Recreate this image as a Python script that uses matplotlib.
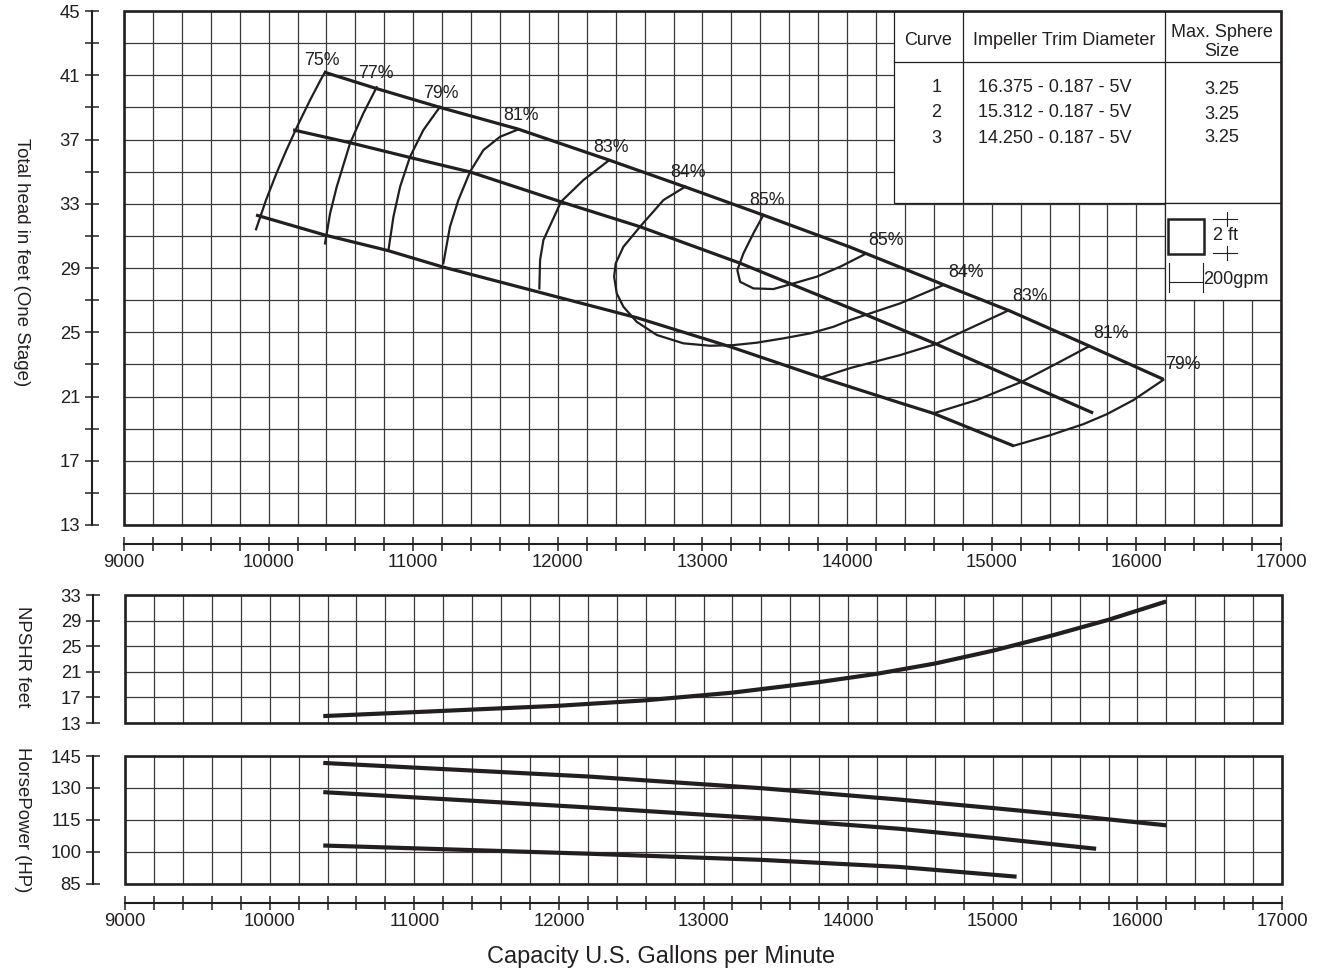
import matplotlib
matplotlib.use("Agg")
import matplotlib.pyplot as plt
from matplotlib.patches import Rectangle
from matplotlib.ticker import MultipleLocator
import numpy as np

plt.rcParams['font.family'] = ['Liberation Sans', 'DejaVu Sans']
INK = '#231f20'
GRID = '#3a3a3a'

# Head curves for the three impeller trims (gpm, ft)
q_trim1 = [10383, 10736, 11185, 11725, 12354, 12880, 13419, 14021, 14678, 15127, 15680, 16187]
h_trim1 = [41.2, 40.2, 39.0, 37.65, 35.72, 34.05, 32.3, 30.3, 27.92, 26.32, 24.12, 22.07]
q_trim2 = [10169, 10563, 10978, 11393, 12022, 12568, 13260, 14021, 14615, 15208, 15701]
h_trim2 = [37.6, 36.8, 35.88, 34.98, 33.12, 31.57, 29.3, 26.5, 24.27, 21.92, 19.97]
q_trim3 = [9913, 10390, 10819, 11206, 11995, 12548, 13191, 13813, 14367, 14597, 15150]
h_trim3 = [32.3, 31.05, 30.1, 29.06, 27.2, 25.9, 24.1, 22.2, 20.6, 19.95, 17.93]

# Iso-efficiency lines
q_e75 = [9913, 9982, 10054, 10123, 10208, 10287, 10359, 10391]
h_e75 = [31.41, 33.23, 34.89, 36.34, 38.01, 39.46, 40.70, 41.22]
q_e77 = [10390, 10425, 10471, 10563, 10655, 10747]
h_e77 = [30.53, 32.4, 34.06, 36.76, 38.63, 40.25]
q_e79 = [10828, 10863, 10909, 10978, 11070, 11185]
h_e79 = [30.07, 32.19, 34.06, 35.93, 37.59, 39.04]
q_e81 = [11208, 11254, 11312, 11393, 11485, 11600, 11727]
h_e81 = [29.29, 31.57, 33.23, 35.0, 36.34, 37.17, 37.63]
q_e83 = [11872, 11877, 11900, 12022, 12177, 12356]
h_e83 = [27.73, 29.5, 30.74, 33.13, 34.48, 35.72]
q_e84 = [12880, 12730, 12568, 12453, 12400, 12389, 12407, 12453, 12545, 12684, 12868,
         13053, 13214, 13375, 13559, 13744, 13905, 14021, 14367, 14666]
h_e84 = [34.06, 33.23, 31.57, 30.32, 29.29, 28.46, 27.42, 26.59, 25.65, 24.83, 24.31,
         24.16, 24.2, 24.35, 24.62, 24.93, 25.34, 25.76, 26.8, 27.94]
q_e85 = [13421, 13352, 13283, 13241, 13260, 13352, 13490, 13629, 13790, 13952, 14125]
h_e85 = [32.3, 31.16, 29.91, 28.87, 28.14, 27.73, 27.69, 28.04, 28.46, 29.08, 29.87]
q_e83b = [13836, 14021, 14367, 14615, 15106]
h_e83b = [22.23, 22.77, 23.58, 24.27, 26.32]
q_e81b = [14597, 14897, 15208, 15450, 15676]
h_e81b = [19.95, 20.78, 21.92, 23.06, 24.14]
q_e79b = [15150, 15404, 15634, 15796, 15980, 16187]
h_e79b = [17.93, 18.59, 19.28, 19.9, 20.78, 22.04]

eff_lines = [(q_e75, h_e75), (q_e77, h_e77), (q_e79, h_e79), (q_e81, h_e81),
             (q_e83, h_e83), (q_e84, h_e84), (q_e85, h_e85), (q_e83b, h_e83b),
             (q_e81b, h_e81b), (q_e79b, h_e79b)]

eff_text = ['75%', '77%', '79%', '81%', '83%', '84%', '85%', '85%', '84%', '83%', '81%', '79%']
eff_text_q = [10245, 10618, 11068, 11621, 12243, 12776, 13322, 14145, 14698, 15141, 15701, 16199]
eff_text_h = [41.89, 41.14, 39.89, 38.52, 36.53, 34.97, 33.23, 30.74, 28.74, 27.25, 24.95, 23.02]

# NPSHR
q_npsh = [10385, 11000, 11600, 12000, 12600, 13200, 13800, 14200, 14600, 15000, 15400, 15800, 16185]
npsh = [14.1, 14.7, 15.3, 15.7, 16.55, 17.75, 19.4, 20.7, 22.3, 24.3, 26.62, 29.14, 31.9]

# Horsepower per trim
q_hp1 = [10385, 12200, 13400, 14350, 15000, 15600, 16185]
hp1 = [141.7, 135.4, 129.9, 124.6, 120.6, 116.7, 112.6]
q_hp2 = [10385, 12200, 13400, 14350, 15000, 15700]
hp2 = [128.0, 120.9, 115.8, 110.9, 106.6, 101.6]
q_hp3 = [10385, 12200, 13400, 14350, 15150]
hp3 = [103.0, 99.2, 96.3, 93.0, 88.5]

# Trim table
curve_ids = ['1', '2', '3']
trim_sizes = ['16.375 - 0.187 - 5V', '15.312 - 0.187 - 5V', '14.250 - 0.187 - 5V']
sphere_sizes = ['3.25', '3.25', '3.25']

fig = plt.figure(figsize=(13.19, 9.76), dpi=100)
ax = fig.add_axes([0.0940, 0.4621, 0.8772, 0.5266])
ax_npsh = fig.add_axes([0.0948, 0.2592, 0.8772, 0.1311])
ax_hp = fig.add_axes([0.0948, 0.0943, 0.8772, 0.1311])

TICK_FS = 13.3


def style_panel(a, ylim, yticks, yminor=None, xlabels=True):
    a.set_xlim(9000, 17000)
    a.set_ylim(*ylim)
    a.xaxis.set_major_locator(MultipleLocator(1000))
    a.xaxis.set_minor_locator(MultipleLocator(200))
    a.set_yticks(yticks)
    if yminor is not None:
        a.set_yticks(yminor, minor=True)
    a.spines['top'].set_visible(False)
    a.spines['right'].set_visible(False)
    a.spines['left'].set_position(('outward', 23))
    a.spines['left'].set_linewidth(1.5)
    a.spines['left'].set_color(INK)
    if xlabels:
        a.spines['bottom'].set_position(('outward', 13.7))
        a.spines['bottom'].set_linewidth(1.5)
        a.spines['bottom'].set_color(INK)
        a.tick_params(axis='x', which='both', direction='inout', length=9.5,
                      width=1.1, colors=INK, labelsize=TICK_FS, pad=2.5)
    else:
        a.spines['bottom'].set_visible(False)
        a.tick_params(axis='x', which='both', bottom=False, labelbottom=False)
    a.tick_params(axis='y', which='both', direction='inout', length=10,
                  width=1.1, colors=INK, labelsize=TICK_FS, pad=3.5)
    a.grid(which='both', color=GRID, lw=0.9)
    a.set_axisbelow(True)
    a.add_patch(Rectangle((0, 0), 1, 1, transform=a.transAxes, fill=False,
                          lw=1.9, ec=INK, zorder=6, clip_on=False))


style_panel(ax, (13, 45), np.arange(13, 46, 4), np.arange(15, 45, 4))
style_panel(ax_npsh, (13, 33), np.arange(13, 34, 4), xlabels=False)
style_panel(ax_hp, (85, 145), np.arange(85, 146, 15))

# head-capacity curves and efficiency lines
for q, h in [(q_trim1, h_trim1), (q_trim2, h_trim2), (q_trim3, h_trim3)]:
    ax.plot(q, h, color=INK, lw=2.3, solid_capstyle='butt', solid_joinstyle='round', zorder=4)
for q, h in eff_lines:
    ax.plot(q, h, color=INK, lw=1.6, solid_joinstyle='round', zorder=3)
for t, q, h in zip(eff_text, eff_text_q, eff_text_h):
    ax.text(q, h, t, fontsize=12.8, color=INK, ha='left', va='center', zorder=5)

# trim table in the upper right corner
tr = ax.transAxes
ax.add_patch(Rectangle((0.6655, 0.6265), 0.3345, 0.3735, transform=tr,
                       fc='white', ec=INK, lw=0.9, zorder=5))
ax.add_patch(Rectangle((0.8995, 0.4377), 0.1005, 0.1888, transform=tr,
                       fc='white', ec=INK, lw=0.9, zorder=5))
ax.plot([0.7251, 0.7251], [0.6265, 1.0], transform=tr, color=INK, lw=0.9, zorder=6)
ax.plot([0.8995, 0.8995], [0.6265, 1.0], transform=tr, color=INK, lw=0.9, zorder=6)
ax.plot([0.6655, 1.0], [0.9008, 0.9008], transform=tr, color=INK, lw=0.9, zorder=6)

hdr = dict(transform=tr, fontsize=13, color=INK, va='center', zorder=7)
ax.text(0.695, 0.9436, 'Curve', ha='center', **hdr)
ax.text(0.8124, 0.9436, 'Impeller Trim Diameter', ha='center', **hdr)
ax.text(0.949, 0.9580, 'Max. Sphere', ha='center', **hdr)
ax.text(0.949, 0.9215, 'Size', ha='center', **hdr)
for cid, trim, sph, y_row, y_sph in zip(curve_ids, trim_sizes, sphere_sizes,
                                         [0.8521, 0.8035, 0.7529],
                                         [0.8482, 0.7996, 0.7549]):
    ax.text(0.702, y_row, cid, ha='center', **hdr)
    ax.text(0.7381, y_row, trim, ha='left', **hdr)
    ax.text(0.949, y_sph, sph, ha='center', **hdr)

# grid scale key
ax.add_patch(Rectangle((0.9023, 0.5272), 0.0311, 0.0681, transform=tr,
                       fill=False, ec=INK, lw=1.8, zorder=7))
key = dict(transform=tr, color=INK, lw=0.8, zorder=7)
ax.plot([0.9412, 0.962], [0.5953, 0.5953], **key)
ax.plot([0.9412, 0.962], [0.5292, 0.5292], **key)
ax.plot([0.9533, 0.9533], [0.5817, 0.609], **key)
ax.plot([0.9533, 0.9533], [0.5156, 0.5428], **key)
ax.text(0.9412, 0.5623, '2 ft', transform=tr, fontsize=13, color=INK,
        ha='left', va='center', zorder=7)
ax.plot([0.9032, 0.9032], [0.4533, 0.5097], **key)
ax.plot([0.9326, 0.9326], [0.4533, 0.5097], **key)
ax.plot([0.9032, 0.9326], [0.4728, 0.4728], **key)
ax.text(0.9330, 0.4767, '200gpm', transform=tr, fontsize=13, color=INK,
        ha='left', va='center', zorder=7)

# NPSHR and horsepower
ax_npsh.plot(q_npsh, npsh, color=INK, lw=3, solid_joinstyle='round', zorder=4)
for q, p in [(q_hp1, hp1), (q_hp2, hp2), (q_hp3, hp3)]:
    ax_hp.plot(q, p, color=INK, lw=3, solid_joinstyle='round', zorder=4)

lab = dict(fontsize=13.4, color=INK, rotation=270, ha='center', va='center')
fig.text(21 / 1319, 1 - 262 / 976, 'Total head in feet (One Stage)', **lab)
fig.text(22 / 1319, 1 - 657 / 976, 'NPSHR feet', **lab)
fig.text(22 / 1319, 1 - 820 / 976, 'HorsePower (HP)', **lab)
fig.text(0.501, 0.0195, 'Capacity U.S. Gallons per Minute', fontsize=16.9,
         color=INK, ha='center', va='center')

fig.savefig('out.png', dpi=100)
